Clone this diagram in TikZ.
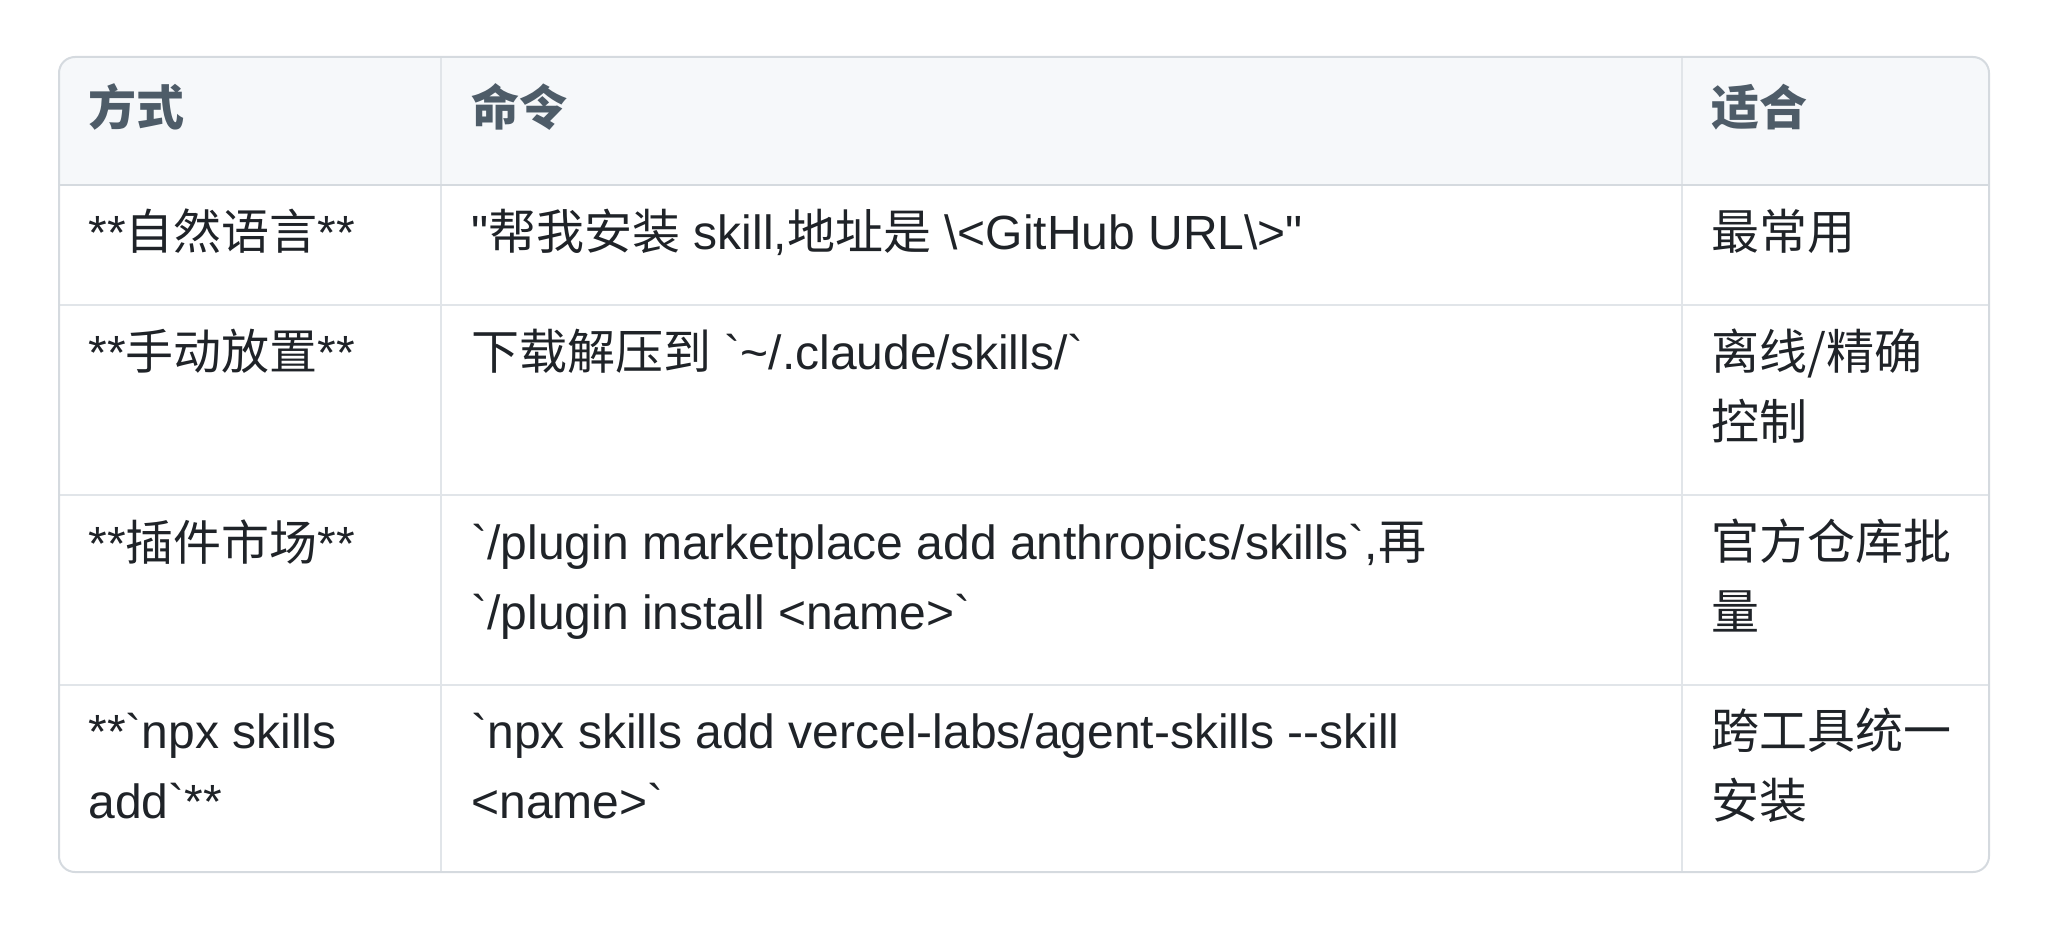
\documentclass[tikz,border=0pt]{standalone}
\usepackage{fontspec}
\setmainfont{Liberation Sans}[Ligatures=TeXOff]
\newfontfamily\cjk{Noto Sans CJK SC}

\definecolor{headfill}{HTML}{F6F8FA}
\definecolor{headink}{HTML}{4E5C68}
\definecolor{ink}{HTML}{1F2328}
\definecolor{outline}{HTML}{D5DADF}
\definecolor{rule}{HTML}{E1E5E9}

\begin{document}
\begin{tikzpicture}[x=0.5pt, y=-0.5pt,
        cell/.style={anchor=base west, inner sep=0pt, align=left, text=ink, font={\fontsize{24}{35}\selectfont}},
        head/.style={cell, text=headink, font={\fontsize{24}{35}\selectfont\bfseries}},
        rule/.style={draw=rule, line width=1pt},]

        \useasboundingbox (0,0) rectangle (2048,931);

        % Define the corners of the table
        \coordinate (NW) at (59,57);
        \coordinate (NE) at (1989,57);
        \coordinate (SW) at (59,872);
        \coordinate (SE) at (1989,872);

        % Row and column borders
        \coordinate (H0) at (59,185);
        \coordinate (H1) at (1989,185);
        \coordinate (R1a) at (59,305);
        \coordinate (R1b) at (1989,305);
        \coordinate (R2a) at (59,495);
        \coordinate (R2b) at (1989,495);
        \coordinate (R3a) at (59,685);
        \coordinate (R3b) at (1989,685);
        \coordinate (C1a) at (441,57);
        \coordinate (C1b) at (441,872);
        \coordinate (C2a) at (1682,57);
        \coordinate (C2b) at (1682,872);

        % Header background
        \fill[headfill] (H0) [rounded corners=8pt] -- (NW) -- (NE) [sharp corners] -- (H1) -- cycle;

        % Grid lines
        \draw[rule] (R1a) -- (R1b);
        \draw[rule] (R2a) -- (R2b);
        \draw[rule] (R3a) -- (R3b);
        \draw[rule] (C1a) -- (C1b);
        \draw[rule] (C2a) -- (C2b);
        \draw[rule, draw=outline] (H0) -- (H1);

        % Outer frame
        \draw[draw=outline, line width=1pt, rounded corners=8pt] (NW) rectangle (SE);

        % Header
        \node[head] (hway) at (88,126) {\cjk 方式};
        \node[head] (hcmd) at (471,126) {\cjk 命令};
        \node[head] (hfit) at (1711,126) {\cjk 适合};

        % Rows (two-line cells sit on the baseline of their last line)
        \node[cell] (way1) at (88,249) {**{\cjk 自然语言}**};
        \node[cell] (cmd1) at (471,249) {"{\cjk 帮我安装} skill,{\cjk 地址是} \textbackslash<GitHub URL\textbackslash>"};
        \node[cell] (fit1) at (1711,249) {\cjk 最常用};

        \node[cell] (way2) at (88,369) {**{\cjk 手动放置}**};
        \node[cell] (cmd2) at (471,369) {{\cjk 下载解压到} `\textasciitilde/.claude/skills/`};
        \node[cell] (fit2) at (1711,439) {{\cjk 离线/精确}\\{\cjk 控制}};

        \node[cell] (way3) at (88,560) {**{\cjk 插件市场}**};
        \node[cell] (cmd3) at (471,629) {`/plugin marketplace add anthropics/skills`,{\cjk 再}\\`/plugin install <name>`};
        \node[cell] (fit3) at (1711,629) {{\cjk 官方仓库批}\\{\cjk 量}};

        \node[cell] (way4) at (88,818) {**`npx skills\\add`**};
        \node[cell] (cmd4) at (471,818) {`npx skills add vercel-labs/agent-skills --skill\\<name>`};
        \node[cell] (fit4) at (1711,818) {{\cjk 跨工具统一}\\{\cjk 安装}};

    \end{tikzpicture}
\end{document}
